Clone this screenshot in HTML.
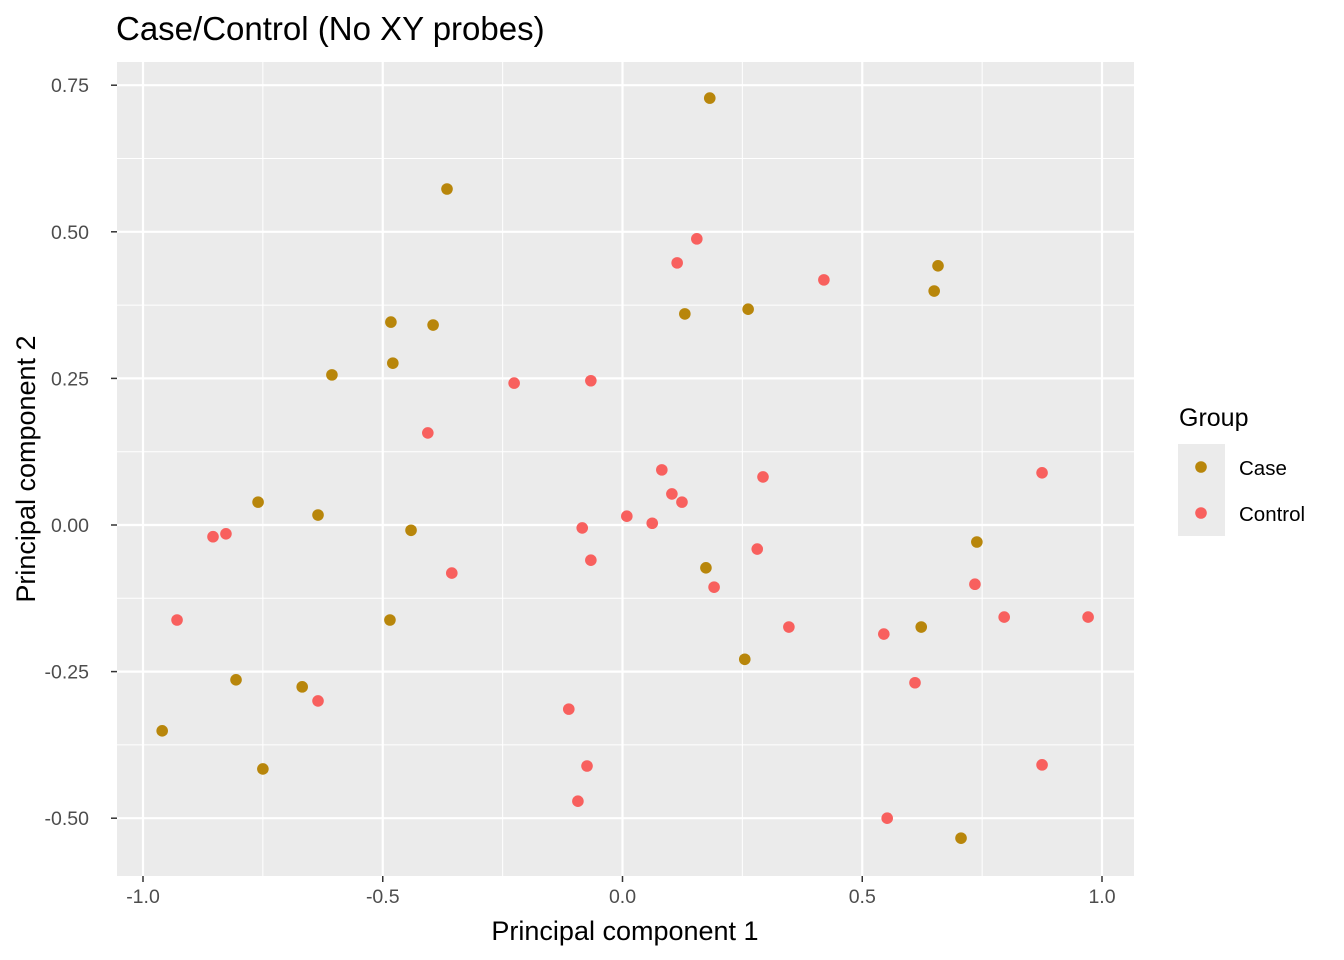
<!DOCTYPE html>
<html><head><meta charset="utf-8"><style>
body{margin:0;background:#fff;}
svg{display:block;font-family:"Liberation Sans",Arial,sans-serif;}
</style></head><body>
<svg id="chart" width="1344" height="960">
<rect x="117" y="62" width="1017" height="814" fill="#EBEBEB"/>
<g id="grid"></g><g id="points"></g><g id="axes"></g>
<text x="116" y="40" font-size="33" fill="#000">Case/Control (No XY probes)</text>
<text x="625" y="940" font-size="27" text-anchor="middle" fill="#000">Principal component 1</text>
<text transform="translate(35,469) rotate(-90)" font-size="27" text-anchor="middle" fill="#000">Principal component 2</text>
<g>
<text x="1179" y="426" font-size="25" fill="#000">Group</text>
<rect x="1178" y="444" width="47" height="92" fill="#EBEBEB"/>
<circle cx="1201" cy="467" r="5.8" fill="#B8860B"/>
<circle cx="1201" cy="513" r="5.8" fill="#F8605E"/>
<text x="1239" y="475" font-size="20.5" fill="#000">Case</text>
<text x="1239" y="521" font-size="20.5" fill="#000">Control</text>
</g>
</svg>
<script>
const xTicks=[-1.0,-0.5,0.0,0.5,1.0];
const xTickLabels=["-1.0","-0.5","0.0","0.5","1.0"];
const yTicks=[-0.50,-0.25,0.00,0.25,0.50,0.75];
const yTickLabels=["-0.50","-0.25","0.00","0.25","0.50","0.75"];
const caseX=[0.182,-0.366,0.658,0.650,0.262,0.130,-0.483,-0.395,-0.479,-0.606,-0.760,-0.635,-0.441,0.739,0.174,-0.485,0.623,0.255,-0.806,-0.668,-0.960,-0.750,0.706];
const caseY=[0.728,0.573,0.442,0.399,0.368,0.360,0.346,0.341,0.276,0.256,0.039,0.017,-0.009,-0.029,-0.073,-0.162,-0.174,-0.229,-0.264,-0.276,-0.351,-0.416,-0.534];
const controlX=[0.155,0.114,0.420,-0.226,-0.066,-0.406,0.082,0.875,0.103,0.293,0.124,-0.084,0.009,0.062,-0.827,-0.854,-0.066,0.281,-0.356,0.735,0.191,0.796,0.971,-0.929,0.347,0.545,0.610,-0.635,-0.112,-0.074,0.875,-0.093,0.552];
const controlY=[0.488,0.447,0.418,0.242,0.246,0.157,0.094,0.089,0.053,0.082,0.039,-0.005,0.015,0.003,-0.015,-0.020,-0.060,-0.041,-0.082,-0.101,-0.106,-0.157,-0.157,-0.162,-0.174,-0.186,-0.269,-0.300,-0.314,-0.411,-0.409,-0.471,-0.500];
const NS="http://www.w3.org/2000/svg";
const sx=v=>622.5+v*479.5;
const sy=v=>525-v*586.4;
const grid=document.getElementById('grid'),axes=document.getElementById('axes'),pts=document.getElementById('points');
function mk(tag,attrs,parent){const e=document.createElementNS(NS,tag);for(const k in attrs)e.setAttribute(k,attrs[k]);parent.appendChild(e);return e;}
for(let i=0;i<xTicks.length-1;i++){
  const m=(xTicks[i]+xTicks[i+1])/2;
  const l=mk('line',{x1:sx(m),x2:sx(m),y1:62,y2:876,stroke:'#fff','stroke-width':1},grid);
  
  
}
for(let i=0;i<yTicks.length-1;i++){
  const m=(yTicks[i]+yTicks[i+1])/2;
  const l=mk('line',{x1:117,x2:1134,y1:sy(m),y2:sy(m),stroke:'#fff','stroke-width':1},grid);
  
  
}
xTicks.forEach((v,i)=>{
  const l=mk('line',{x1:sx(v),x2:sx(v),y1:62,y2:876,stroke:'#fff','stroke-width':2.2},grid);
  
  
  const t=mk('line',{x1:sx(v),x2:sx(v),y1:876,y2:882,stroke:'#333','stroke-width':1.5},axes);
  
  
  const tx=mk('text',{x:sx(v),y:903,'font-size':19.5,fill:'#4D4D4D','text-anchor':'middle'},axes);
  tx.textContent=xTickLabels[i];
  
  
});
yTicks.forEach((v,i)=>{
  const l=mk('line',{x1:117,x2:1134,y1:sy(v),y2:sy(v),stroke:'#fff','stroke-width':2.2},grid);
  
  
  const t=mk('line',{x1:111,x2:117,y1:sy(v),y2:sy(v),stroke:'#333','stroke-width':1.5},axes);
  
  
  const tx=mk('text',{x:89,y:sy(v)+7,'font-size':19.5,fill:'#4D4D4D','text-anchor':'end'},axes);
  tx.textContent=yTickLabels[i];
  
  
});
caseX.forEach((v,i)=>{
  const c=mk('circle',{cx:sx(v),cy:sy(caseY[i]),r:5.8,fill:'#B8860B'},pts);
  
  
});
controlX.forEach((v,i)=>{
  const c=mk('circle',{cx:sx(v),cy:sy(controlY[i]),r:5.8,fill:'#F8605E'},pts);
  
  
});
</script>
</body></html>
